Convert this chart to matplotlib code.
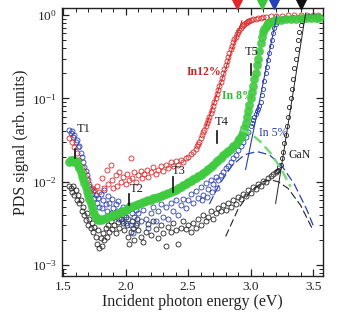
import matplotlib
matplotlib.use("Agg")
import matplotlib.pyplot as plt
from matplotlib.ticker import MultipleLocator, LogLocator, NullFormatter
import matplotlib.transforms as mtransforms

plt.rcParams['font.family'] = ['Liberation Serif', 'DejaVu Serif']
plt.rcParams['mathtext.fontset'] = 'stix'

# ---------------- data ----------------
# GaN (black open circles)
gan_E = [1.55,1.56,1.57,1.58,1.59,1.60,1.61,1.62,1.63,1.64,1.65,1.66,1.67,1.68,1.69,1.70,1.71,1.72,1.73,1.74,
         1.75,1.76,1.77,1.78,1.79,1.80,1.81,1.82,1.83,1.84,1.85,1.86,1.87,1.88,1.89,1.90,1.91,1.92,1.93,1.94,
         1.95,1.96,1.97,1.98,1.99,2.00,2.01,2.02,2.03,2.04,2.05,2.06,2.07,2.08,2.09,2.10,2.12,2.14,2.16,2.18,
         2.20,2.22,2.24,2.26,2.28,2.30,2.32,2.34,2.36,2.38,2.40,2.42,2.44,2.46,2.48,2.50,2.52,2.54,2.56,2.58,
         2.60,2.62,2.64,2.66,2.68,2.70,2.72,2.74,2.76,2.78,2.80,2.82,2.84,2.86,2.88,2.90,2.92,2.94,2.96,2.98,
         3.00,3.02,3.04,3.06,3.08,3.10,3.12,3.14,3.16,3.18,3.20]
gan_y = [9e-3,8.5e-3,7.5e-3,9e-3,7e-3,8e-3,6e-3,7e-3,5.5e-3,6e-3,4.5e-3,5e-3,4e-3,3.5e-3,4.2e-3,3e-3,3.6e-3,2.8e-3,3.2e-3,2.5e-3,
         2.9e-3,2.2e-3,1.8e-3,2.6e-3,1.6e-3,2.1e-3,1.7e-3,2.4e-3,2.0e-3,2.8e-3,2.2e-3,3.0e-3,2.5e-3,3.4e-3,2.7e-3,3.8e-3,3.0e-3,2.4e-3,4.0e-3,3.3e-3,
         2.8e-3,3.6e-3,4.4e-3,3.2e-3,2.6e-3,3.8e-3,3.0e-3,2.2e-3,1.8e-3,2.5e-3,3.4e-3,2.8e-3,2.0e-3,3.0e-3,3.6e-3,2.6e-3,2.2e-3,1.9e-3,2.5e-3,3.1e-3,
         2.3e-3,3.4e-3,2.7e-3,2.1e-3,3.0e-3,2.4e-3,1.7e-3,2.9e-3,2.5e-3,3.2e-3,2.6e-3,1.8e-3,2.8e-3,3.4e-3,2.7e-3,3.0e-3,2.5e-3,3.2e-3,2.8e-3,3.6e-3,
         3.0e-3,4.0e-3,3.4e-3,3.8e-3,4.4e-3,3.6e-3,4.2e-3,4.8e-3,4.4e-3,5.2e-3,4.6e-3,5.6e-3,5.0e-3,6.0e-3,5.4e-3,6.6e-3,6.2e-3,7.2e-3,6.8e-3,8.0e-3,
         7.4e-3,8.6e-3,8.2e-3,9.4e-3,9.0e-3,1.02e-2,9.8e-3,1.1e-2,1.16e-2,1.22e-2,1.3e-2]
gan_rise_E = [3.21,3.22,3.23,3.24,3.25,3.26,3.27,3.28,3.29,3.30,3.31,3.32,3.33,3.34,3.35,3.36,3.37,3.38,3.39,3.40,
              3.41,3.42,3.43,3.44,3.46,3.48,3.50,3.52,3.54]
gan_rise_y = [1.35e-2,1.4e-2,1.5e-2,1.6e-2,1.9e-2,2.3e-2,2.9e-2,3.6e-2,4.6e-2,6e-2,7.8e-2,0.1,0.13,0.17,0.23,0.3,0.39,0.5,0.62,0.75,
              0.84,0.9,0.93,0.95,0.97,0.96,0.97,0.95,0.96]

# In 5% (blue open circles)
in5_E = [1.55,1.56,1.57,1.58,1.59,1.60,1.61,1.62,1.63,1.64,1.65,1.66,1.67,1.68,1.69,1.70,1.71,1.72,1.73,1.74,
         1.75,1.76,1.77,1.78,1.79,1.80,1.81,1.82,1.83,1.84,1.85,1.86,1.87,1.88,1.89,1.90,1.91,1.92,1.93,1.94,
         1.95,1.96,1.97,1.98,1.99,2.00,2.01,2.02,2.03,2.04,2.05,2.06,2.07,2.08,2.09,2.10,2.12,2.14,2.16,2.18,
         2.20,2.22,2.24,2.26,2.28,2.30,2.32,2.34,2.36,2.38,2.40,2.42,2.44,2.46,2.48,2.50,2.52,2.54,2.56,2.58,
         2.60,2.62,2.64,2.66,2.68,2.70,2.72,2.74,2.76,2.78,2.80,2.82,2.84,2.86,2.88,2.90,2.92,2.94,2.96,2.98,
         2.61,2.65,2.69,2.73]
in5_y = [4.2e-2,3.8e-2,4.0e-2,3.4e-2,3.6e-2,3.0e-2,3.2e-2,2.6e-2,2.7e-2,2.2e-2,2.0e-2,1.7e-2,1.5e-2,1.35e-2,1.2e-2,1.05e-2,9.0e-3,8.2e-3,7.2e-3,7.8e-3,
         6.4e-3,7.0e-3,5.6e-3,6.4e-3,5.0e-3,7.2e-3,4.8e-3,6.0e-3,8.0e-3,5.4e-3,4.4e-3,6.8e-3,5.6e-3,4.2e-3,6.2e-3,4.8e-3,3.8e-3,5.4e-3,4.4e-3,5.8e-3,
         3.6e-3,4.6e-3,3.4e-3,5.0e-3,4.0e-3,3.2e-3,4.6e-3,3.6e-3,5.2e-3,3.0e-3,4.2e-3,2.4e-3,3.8e-3,4.6e-3,3.2e-3,4.2e-3,3.4e-3,4.6e-3,3.6e-3,2.8e-3,
         4.2e-3,5.0e-3,3.4e-3,4.4e-3,5.4e-3,3.8e-3,5.0e-3,3.6e-3,5.6e-3,4.4e-3,6.0e-3,4.0e-3,5.2e-3,6.2e-3,4.8e-3,6.0e-3,7.2e-3,5.6e-3,7.8e-3,6.4e-3,
         8.6e-3,7.0e-3,9.6e-3,8.2e-3,1.05e-2,9.4e-3,1.15e-2,1.05e-2,1.2e-2,1.3e-2,1.45e-2,1.55e-2,1.7e-2,1.9e-2,2.1e-2,2.4e-2,2.7e-2,3.0e-2,3.4e-2,3.9e-2,
         6.0e-3,6.6e-3,7.6e-3,8.4e-3]
in5_rise_E = [3.00,3.01,3.02,3.03,3.04,3.05,3.06,3.07,3.08,3.09,3.10,3.11,3.12,3.13,3.14,3.15,3.16,3.17,3.18,3.19,
              3.20,3.21,3.22,3.23,3.24,3.26,3.28,3.30,3.34,3.38,3.42,3.46,3.50,3.54]
in5_rise_y = [4.6e-2,5.0e-2,5.5e-2,6.0e-2,6.4e-2,7.0e-2,7.5e-2,8.2e-2,9.0e-2,0.11,0.13,0.16,0.2,0.24,0.29,0.35,0.42,0.5,0.6,0.69,
              0.78,0.83,0.87,0.89,0.9,0.92,0.93,0.93,0.94,0.95,0.95,0.96,0.96,0.95]

# In 8% (green filled circles)
in8_E = [1.55,1.56,1.57,1.58,1.59,1.60,1.61,1.62,1.63,1.64,1.65,1.66,1.67,1.68,1.69,1.70,1.71,1.72,1.73,1.74,
         1.75,1.76,1.77,1.78,1.79,1.80,1.82,1.84,1.86,1.88,1.90,1.92,1.94,1.96,1.98,2.00,2.02,2.04,2.06,2.08,
         2.10,2.12,2.14,2.16,2.18,2.20,2.22,2.24,2.26,2.28,2.30,2.32,2.34,2.36,2.38,2.40,2.42,2.44,2.46,2.48,
         2.50,2.52,2.54,2.56,2.58,2.60,2.62,2.64,2.66,2.68,2.70,2.72,2.74,2.76,2.78,2.80,2.82,2.84,2.86,2.88,
         2.90]
in8_y = [1.7e-2,1.8e-2,1.75e-2,1.8e-2,1.7e-2,1.75e-2,1.7e-2,1.6e-2,1.45e-2,1.3e-2,1.18e-2,1.07e-2,9.6e-3,8.6e-3,7.7e-3,6.9e-3,6.2e-3,5.6e-3,5.0e-3,4.5e-3,
         4.1e-3,3.8e-3,3.6e-3,3.5e-3,3.6e-3,3.5e-3,3.6e-3,3.7e-3,3.8e-3,3.9e-3,4.0e-3,4.1e-3,4.2e-3,4.3e-3,4.5e-3,4.6e-3,4.8e-3,5.0e-3,5.1e-3,5.2e-3,
         5.4e-3,5.6e-3,5.7e-3,5.8e-3,6.0e-3,6.1e-3,6.3e-3,6.4e-3,6.6e-3,6.7e-3,6.9e-3,7.1e-3,7.3e-3,7.5e-3,7.8e-3,8.0e-3,8.3e-3,8.7e-3,9.1e-3,9.5e-3,
         9.9e-3,1.03e-2,1.07e-2,1.11e-2,1.16e-2,1.21e-2,1.27e-2,1.34e-2,1.42e-2,1.5e-2,1.6e-2,1.7e-2,1.82e-2,1.95e-2,2.08e-2,2.2e-2,2.35e-2,2.5e-2,2.65e-2,2.85e-2,
         3.1e-2]
in8_rise_E = [2.91,2.92,2.93,2.94,2.95,2.96,2.97,2.98,2.99,3.00,3.01,3.02,3.03,3.04,3.05,3.06,3.07,3.08,3.09,3.10,
              3.11,3.12,3.13,3.14,3.15,3.16,3.18,3.20,3.24,3.28,3.32,3.36,3.40,3.44,3.48,3.52,3.55]
in8_rise_y = [3.25e-2,3.4e-2,3.6e-2,3.9e-2,4.4e-2,5.0e-2,5.9e-2,7.0e-2,8.4e-2,0.1,0.12,0.14,0.17,0.2,0.25,0.3,0.37,0.46,0.54,0.62,
              0.67,0.72,0.76,0.79,0.81,0.83,0.85,0.87,0.88,0.89,0.9,0.9,0.91,0.92,0.92,0.92,0.93]

# In 12% (red open circles)
in12_E = [1.55,1.57,1.59,1.61,1.63,1.65,1.67,1.69,1.71,1.73,1.75,1.77,1.79,1.81,1.83,1.85,1.86,1.88,1.89,1.90,
          1.92,1.93,1.95,1.96,1.98,2.00,2.01,2.03,2.04,2.05,2.07,2.08,2.10,2.12,2.13,2.15,2.17,2.18,2.20,2.22,
          2.24,2.26,2.28,2.30,2.32,2.34,2.36,2.38,2.40,2.42,2.44,2.46,2.48,2.50,2.52,2.54]
in12_y = [3.3e-2,3.0e-2,2.6e-2,2.2e-2,1.8e-2,1.5e-2,1.3e-2,1.1e-2,9.5e-3,8.5e-3,8.0e-3,9e-3,7.5e-3,1.1e-2,8.5e-3,1.4e-2,9.5e-3,1.6e-2,1.05e-2,8.5e-3,
          1.2e-2,9e-3,1.3e-2,1.0e-2,1.15e-2,9.5e-3,1.25e-2,1.05e-2,1.9e-2,1.1e-2,1.3e-2,1.0e-2,1.2e-2,1.35e-2,1.1e-2,1.25e-2,1.4e-2,1.15e-2,1.3e-2,1.5e-2,
          1.25e-2,1.4e-2,1.55e-2,1.35e-2,1.6e-2,1.45e-2,1.7e-2,1.55e-2,1.75e-2,1.6e-2,1.8e-2,1.7e-2,1.9e-2,2.0e-2,2.15e-2,2.3e-2]
in12_rise_E = [2.56,2.57,2.58,2.59,2.60,2.61,2.62,2.63,2.64,2.65,2.66,2.67,2.68,2.69,2.70,2.71,2.72,2.73,2.74,2.75,
               2.76,2.77,2.78,2.79,2.80,2.81,2.82,2.83,2.84,2.85,2.86,2.87,2.88,2.89,2.90,2.91,2.92,2.93,2.94,2.95,
               2.96,2.97,2.98,2.99,3.00,3.02,3.04,3.06,3.08,3.10,3.12,3.16,3.20,3.25,3.30,3.35,3.40,3.45,3.50,3.54]
in12_rise_y = [2.5e-2,2.65e-2,2.8e-2,3.0e-2,3.3e-2,3.6e-2,3.9e-2,4.2e-2,4.6e-2,5.0e-2,5.5e-2,6.0e-2,6.6e-2,7.3e-2,8.0e-2,9.0e-2,0.1,0.112,0.125,0.14,
               0.155,0.175,0.2,0.225,0.25,0.28,0.31,0.35,0.39,0.43,0.47,0.51,0.55,0.59,0.63,0.665,0.7,0.73,0.76,0.78,
               0.8,0.82,0.84,0.855,0.87,0.885,0.9,0.915,0.93,0.94,0.95,0.96,0.97,0.98,1.0,1.0,1.0,1.0,0.99,1.0]

# fitted curves
gan_fit_E = [3.20, 3.44]
gan_fit_y = [5.5e-3, 1.05]
gan_band_E = [2.80, 2.90, 3.00, 3.10, 3.16, 3.22, 3.30, 3.40, 3.50]
gan_band_y = [2.2e-3, 4.7e-3, 7.7e-3, 1.0e-2, 1.05e-2, 1.0e-2, 8.3e-3, 5.2e-3, 2.6e-3]
in5_fit_E = [2.96, 3.21]
in5_fit_y = [1.4e-2, 1.0]
in5_band_E = [2.67, 2.75, 2.85, 2.95, 3.05, 3.15, 3.25, 3.35, 3.45, 3.50]
in5_band_y = [5.4e-3, 9.3e-3, 1.55e-2, 2.1e-2, 2.3e-2, 2.1e-2, 1.55e-2, 9.3e-3, 4.6e-3, 3.0e-3]
in8_band_E = [2.92, 3.00, 3.08, 3.16, 3.24, 3.32]
in8_band_y = [4.2e-2, 3.8e-2, 3.0e-2, 2.2e-2, 1.45e-2, 8.7e-3]
in12_fit_E = [2.64, 2.93]
in12_fit_y = [4.5e-2, 0.85]

# transition markers: label, bar energy, bar bottom, bar top, label position
t_labels = ['T1', 'T2', 'T3', 'T4', 'T5']
t_E = [1.596, 2.03, 2.38, 2.73, 3.00]
t_lo = [1.9e-2, 5.2e-3, 7.6e-3, 2.9e-2, 0.19]
t_hi = [2.5e-2, 7.2e-3, 1.15e-2, 4.0e-2, 0.26]
t_text_E = [1.612, 2.036, 2.372, 2.716, 2.956]
t_text_y = [3.6e-2, 6.9e-3, 1.13e-2, 4.4e-2, 0.305]

# band-gap arrows at the top
gap_E = [2.89, 3.09, 3.19, 3.40]
gap_colors = ['#e3242b', '#39c639', '#2541b8', '#111111']

RED = '#d92a2a'
GREEN = '#3fca3f'
BLUE = '#2a3fb0'
BLACK = '#222222'

fig = plt.figure(figsize=(3.38, 3.22), dpi=100)
ax = fig.add_axes([0.183, 0.143, 0.773, 0.832])
ax.set_yscale('log')

circ = dict(ls='none', marker='o', ms=3.6, mfc='none', mew=0.6)
ax.plot(gan_E, gan_y, mec=BLACK, zorder=2, **circ)
ax.plot(gan_rise_E, gan_rise_y, ls='none', marker='o', ms=3.0, mfc='none', mew=0.6, mec=BLACK, zorder=2)
ax.plot(in5_E, in5_y, mec=BLUE, zorder=3, **circ)
ax.plot(in5_rise_E, in5_rise_y, ls='none', marker='o', ms=3.0, mfc='none', mew=0.6, mec=BLUE, zorder=3)
ax.plot(in12_E, in12_y, mec=RED, zorder=3, **circ)
ax.plot(in12_rise_E, in12_rise_y, mec=RED, zorder=3, **circ)
dot = dict(ls='none', marker='o', ms=6.0, mfc=GREEN, mec=GREEN, mew=0.3, alpha=0.9, zorder=4)
ax.plot(in8_E, in8_y, **dot)
ax.plot(in8_rise_E, in8_rise_y, **dot)

ax.plot(gan_fit_E, gan_fit_y, '-', color=BLACK, lw=0.7, zorder=5)
ax.plot(gan_band_E, gan_band_y, color=BLACK, lw=0.8, ls=(0, (7, 3)), zorder=5)
ax.plot(in5_fit_E, in5_fit_y, '-', color=BLUE, lw=0.8, zorder=5)
ax.plot(in5_band_E, in5_band_y, color=BLUE, lw=0.9, ls=(0, (7, 3)), zorder=5)
ax.plot(in8_band_E, in8_band_y, color='#7ad87a', lw=1.8, ls=(0, (4, 2)), zorder=5)
ax.plot(in12_fit_E, in12_fit_y, '-', color=RED, lw=0.8, zorder=5)

for lab, e, lo, hi, te, ty in zip(t_labels, t_E, t_lo, t_hi, t_text_E, t_text_y):
    ax.plot([e, e], [lo, hi], color='#111111', lw=1.2, zorder=6)
    ax.text(te, ty, lab, fontsize=9, color='#222222', ha='left', va='bottom', zorder=6)

ax.text(2.63, 0.205, 'In12%', color='#c42525', fontsize=8.5, fontweight='bold', ha='center', va='center')
ax.text(2.90, 0.108, 'In 8%', color='#33b833', fontsize=8.5, fontweight='bold', ha='center', va='center')
ax.text(3.18, 0.038, 'In 5%', color=BLUE, fontsize=8.5, ha='center', va='center')
ax.text(3.39, 0.021, 'GaN', color='#222222', fontsize=8.5, ha='center', va='center')

trans = mtransforms.blended_transform_factory(ax.transData, ax.transAxes)
for e, c in zip(gap_E, gap_colors):
    ax.plot([e], [1.016], marker='v', ms=6.5, color=c, transform=trans, clip_on=False, zorder=10)

ax.set_xlim(1.49, 3.58)
ax.set_ylim(7.4e-4, 1.21)
ax.xaxis.set_major_locator(MultipleLocator(0.5))
ax.xaxis.set_minor_locator(MultipleLocator(0.1))
ax.yaxis.set_major_locator(LogLocator(base=10, numticks=10))
ax.yaxis.set_minor_locator(LogLocator(base=10, subs=[2, 3, 4, 5, 6, 7, 8, 9], numticks=10))
ax.yaxis.set_minor_formatter(NullFormatter())
ax.tick_params(which='both', direction='in', top=True, right=True, labelsize=9.5, colors='#222222')
ax.tick_params(which='major', length=5, width=0.9)
ax.tick_params(which='minor', length=3, width=0.7)
for s in ax.spines.values():
    s.set_linewidth(1.0)
    s.set_color('#222222')

ax.set_xlabel('Incident photon energy (eV)', fontsize=11.5, labelpad=1, color='#222222')
ax.set_ylabel('PDS signal (arb. units)', fontsize=11.5, labelpad=2, color='#222222')

fig.savefig('out.png', dpi=100)
